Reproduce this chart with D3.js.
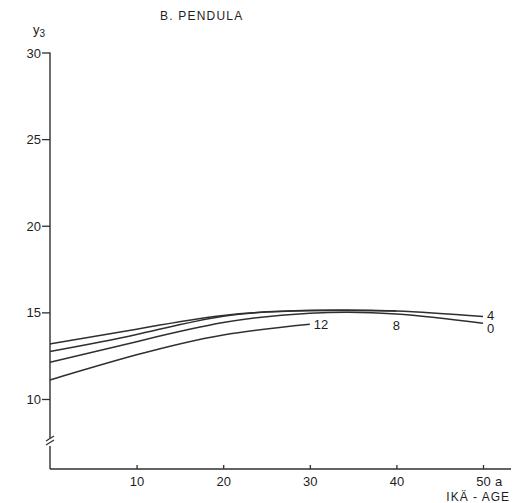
<!DOCTYPE html>
<html>
<head>
<meta charset="utf-8">
<script src="https://cdn.jsdelivr.net/npm/d3@7"></script>
<style>
  body { margin: 0; background: #fff; }
  text { font-family: "Liberation Sans", Arial, sans-serif; fill: #1e1e1e; }
</style>
</head>
<body>
<svg id="chart" width="514" height="503"></svg>
<script>
// values (age in years, y3)
const ages = [0, 10, 20, 30, 40, 50];
const curve4 = [13.18, 14.03, 14.82, 15.12, 15.08, 14.76];
const curve8 = [12.74, 13.72, 14.78, 15.10, 15.08];
const curve0 = [12.12, 13.31, 14.41, 14.95, 14.91, 14.37];
const curve12 = [11.10, 12.55, 13.70, 14.32];
const curveNames = ["4", "8", "0", "12"];
const yTicks = [10, 15, 20, 25, 30];
const xTicks = [10, 20, 30, 40, 50];

const ink = "#2f2f2f";
let svg = d3.select("#chart");

let x = d3.scaleLinear().domain([0, 50]).range([50, 483]);
let y = d3.scaleLinear().domain([10, 30]).range([399, 52.5]);
let baseY = 469;

let series = [curve4, curve8, curve0, curve12].map((vals, i) => ({
    name: curveNames[i],
    points: vals.map((v, j) => [ages[j], v])
}));

// y axis (with break below 10)
let yAxis = d3.axisLeft(y).tickValues(yTicks).tickSize(8).tickPadding(1);
let gy = svg.append("g").attr("transform", `translate(${x(0)},0)`).call(yAxis);
gy.select(".domain").remove();
gy.selectAll(".tick line").attr("stroke", ink).attr("stroke-width", 1.3);
gy.selectAll(".tick text").style("font-size", "13px").attr("dy", "0.35em");

svg.append("line")
    .attr("x1", x(0)).attr("x2", x(0))
    .attr("y1", y(30)).attr("y2", 438)
    .attr("stroke", ink).attr("stroke-width", 1.4);
svg.append("line")
    .attr("x1", x(0)).attr("x2", x(0))
    .attr("y1", 446).attr("y2", baseY)
    .attr("stroke", ink).attr("stroke-width", 1.4);
// break marks
[0, 4].forEach(off => {
    svg.append("line")
        .attr("x1", x(0) - 4).attr("y1", 441 + off)
        .attr("x2", x(0) + 4).attr("y2", 436 + off)
        .attr("stroke", ink).attr("stroke-width", 1.2);
});

// x axis, ticks pointing up
let xAxis = d3.axisBottom(x).tickValues(xTicks).tickSize(-4).tickPadding(6);
let gx = svg.append("g").attr("transform", `translate(0,${baseY})`).call(xAxis);
gx.select(".domain").remove();
gx.selectAll(".tick line").attr("stroke", ink).attr("stroke-width", 1.3);
gx.selectAll(".tick text").style("font-size", "13px").attr("dy", "0.85em");

svg.append("line")
    .attr("x1", x(0)).attr("x2", 511)
    .attr("y1", baseY).attr("y2", baseY)
    .attr("stroke", ink).attr("stroke-width", 1.4);

svg.append("text").attr("x", x(50) + 12).attr("y", baseY + 17)
    .style("font-size", "13px").text("a");
svg.append("text").attr("x", 510).attr("y", 501)
    .attr("text-anchor", "end").style("font-size", "12px")
    .style("letter-spacing", "1px").text("IKÄ - AGE");

// y label
let yl = svg.append("text").attr("x", 33).attr("y", 34).style("font-size", "13px");
yl.append("tspan").text("y");
yl.append("tspan").attr("dy", 3).style("font-size", "10px").text("3");

// title
svg.append("text").attr("x", 160).attr("y", 20)
    .style("font-size", "12px").style("letter-spacing", "1.2px")
    .text("B. PENDULA");

// curves
let line = d3.line()
    .x(d => x(d[0]))
    .y(d => y(d[1]))
    .curve(d3.curveNatural);

svg.append("g").selectAll("path")
    .data(series)
    .enter()
    .append("path")
        .attr("d", d => line(d.points))
        .attr("fill", "none")
        .attr("stroke", ink)
        .attr("stroke-width", 1.5);

// curve labels at line ends
let labelShift = { "4": [4, 3], "0": [4, 10], "12": [4, 5], "8": [0, 19] };
svg.append("g").selectAll("text")
    .data(series)
    .enter()
    .append("text")
        .style("font-size", "13px")
        .attr("x", d => x(d.points[d.points.length - 1][0]) + labelShift[d.name][0])
        .attr("y", d => y(d.points[d.points.length - 1][1]) + labelShift[d.name][1])
        .attr("text-anchor", d => d.name === "8" ? "middle" : "start")
        .text(d => d.name);
</script>
</body>
</html>
